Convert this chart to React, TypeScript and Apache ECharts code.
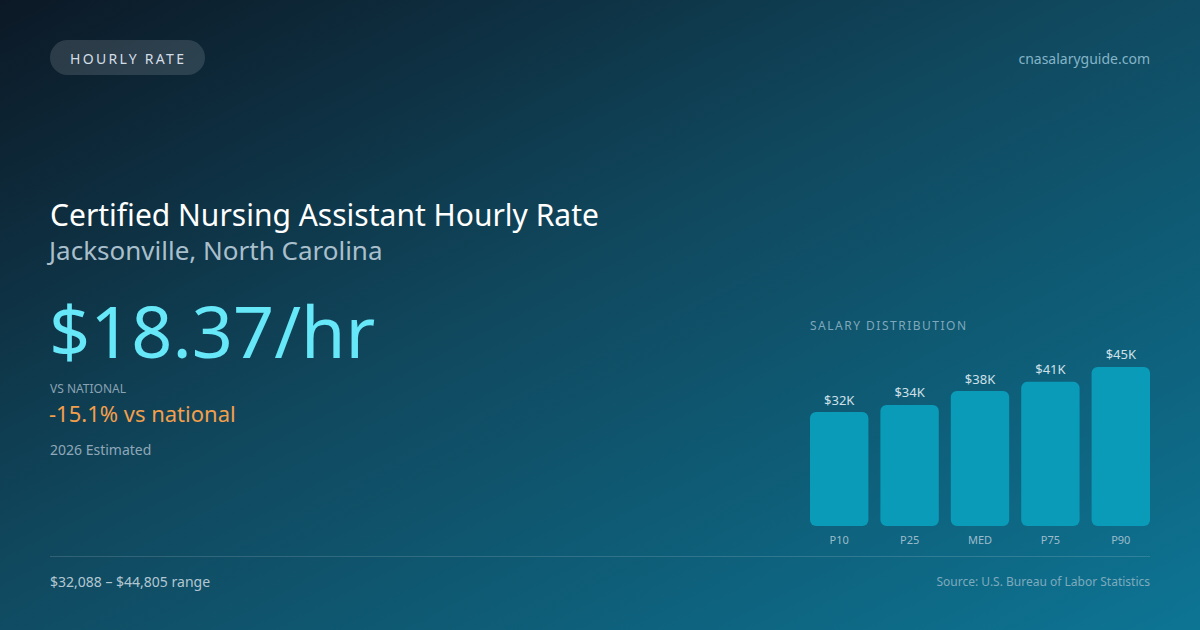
import { useEffect, useRef } from "react";
import * as echarts from "echarts";

const percentiles = ["P10", "P25", "MED", "P75", "P90"];
const salaries = [32088, 34100, 38000, 40600, 44805];

const FONT = "'Noto Sans', 'Open Sans', sans-serif";

const fmtK = (v: number) => `$${Math.round(v / 1000)}K`;

// zrender has no letter-spacing, so it is set on the svg nodes after drawing
const spaced: Record<string, string> = {
  "HOURLY RATE": "2.3px",
  "SALARY DISTRIBUTION": "1.5px",
};

export default function App() {
  const ref = useRef<HTMLDivElement>(null);

  useEffect(() => {
    if (!ref.current) return;
    const chart = echarts.init(ref.current, null, { renderer: "svg", width: 1200, height: 630 });

    chart.setOption({
      animation: false,
      backgroundColor: {
        type: "linear",
        x: 0, y: 0, x2: 1, y2: 1,
        colorStops: [
          { offset: 0, color: "#0c1825" },
          { offset: 0.45, color: "#10485e" },
          { offset: 1, color: "#0d7594" },
        ],
      },
      textStyle: { fontFamily: FONT },
      grid: { left: 804, right: 44, top: 348.5, bottom: 104 },
      xAxis: {
        type: "category",
        data: percentiles,
        axisLine: { show: false },
        axisTick: { show: false },
        axisLabel: { color: "#9dbccb", fontSize: 11, margin: 8, fontFamily: FONT },
      },
      yAxis: {
        type: "value",
        min: 0,
        max: 50000,
        show: false,
      },
      series: [
        {
          type: "bar",
          data: salaries,
          barWidth: 58.4,
          itemStyle: { color: "#0a9bb8", borderRadius: 6 },
          label: {
            show: true,
            position: "top",
            distance: 6,
            color: "#cfe0e8",
            fontSize: 13,
            fontFamily: FONT,
            formatter: (p: any) => fmtK(p.value),
          },
        },
      ],
      graphic: [
        {
          type: "rect",
          shape: { x: 50, y: 40, width: 155, height: 35, r: 17.5 },
          style: { fill: "rgba(255,255,255,0.13)" },
        },
        {
          type: "text",
          x: 70, y: 58,
          style: {
            text: "HOURLY RATE", fill: "#d3dde6", fontSize: 14, fontFamily: FONT,
            verticalAlign: "middle",
          },
        },
        {
          type: "text",
          x: 1150, y: 58,
          style: {
            text: "cnasalaryguide.com", fill: "#84b4c7", fontSize: 14, fontFamily: FONT,
            align: "right", verticalAlign: "middle",
          },
        },
        {
          type: "text",
          x: 50, y: 214,
          style: {
            text: "Certified Nursing Assistant Hourly Rate", fill: "#ffffff", fontSize: 30, fontFamily: FONT,
            verticalAlign: "middle",
          },
        },
        {
          type: "text",
          x: 49, y: 250,
          style: {
            text: "Jacksonville, North Carolina", fill: "#a9bfcc", fontSize: 26, fontFamily: FONT,
            verticalAlign: "middle",
          },
        },
        {
          type: "text",
          x: 49, y: 330,
          style: {
            text: "$18.37/hr", fill: "#67e8f9", fontSize: 72, fontFamily: FONT,
            verticalAlign: "middle",
          },
        },
        {
          type: "text",
          x: 50, y: 388,
          style: {
            text: "VS NATIONAL", fill: "#8aa3b3", fontSize: 12, fontFamily: FONT,
            verticalAlign: "middle",
          },
        },
        {
          type: "text",
          x: 49, y: 413,
          style: {
            text: "-15.1% vs national", fill: "#f39f4b", fontSize: 22, fontFamily: FONT,
            verticalAlign: "middle",
          },
        },
        {
          type: "text",
          x: 50, y: 449,
          style: {
            text: "2026 Estimated", fill: "#8fa8b8", fontSize: 14, fontFamily: FONT,
            verticalAlign: "middle",
          },
        },
        {
          type: "text",
          x: 810, y: 325,
          style: {
            text: "SALARY DISTRIBUTION", fill: "#7fa8bc", fontSize: 12, fontFamily: FONT,
            verticalAlign: "middle",
          },
        },
        {
          type: "line",
          shape: { x1: 50, y1: 556.5, x2: 1150, y2: 556.5 },
          style: { stroke: "rgba(255,255,255,0.14)", lineWidth: 1 },
        },
        {
          type: "text",
          x: 50, y: 581,
          style: {
            text: "$32,088 – $44,805 range", fill: "#b3c7d2", fontSize: 14, fontFamily: FONT,
            verticalAlign: "middle",
          },
        },
        {
          type: "text",
          x: 1150, y: 581,
          style: {
            text: "Source: U.S. Bureau of Labor Statistics", fill: "#7eaabd", fontSize: 12, fontFamily: FONT,
            align: "right", verticalAlign: "middle",
          },
        },
      ],
    });

    ref.current.querySelectorAll("text").forEach(t => {
      const ls = spaced[(t.textContent || "").trim()];
      if (ls) t.setAttribute("letter-spacing", ls);
    });

    return () => chart.dispose();
  }, []);

  return (
    <div
      ref={ref}
      style={{ position: "fixed", left: 0, top: 0, width: 1200, height: 630 }}
    />
  );
}
